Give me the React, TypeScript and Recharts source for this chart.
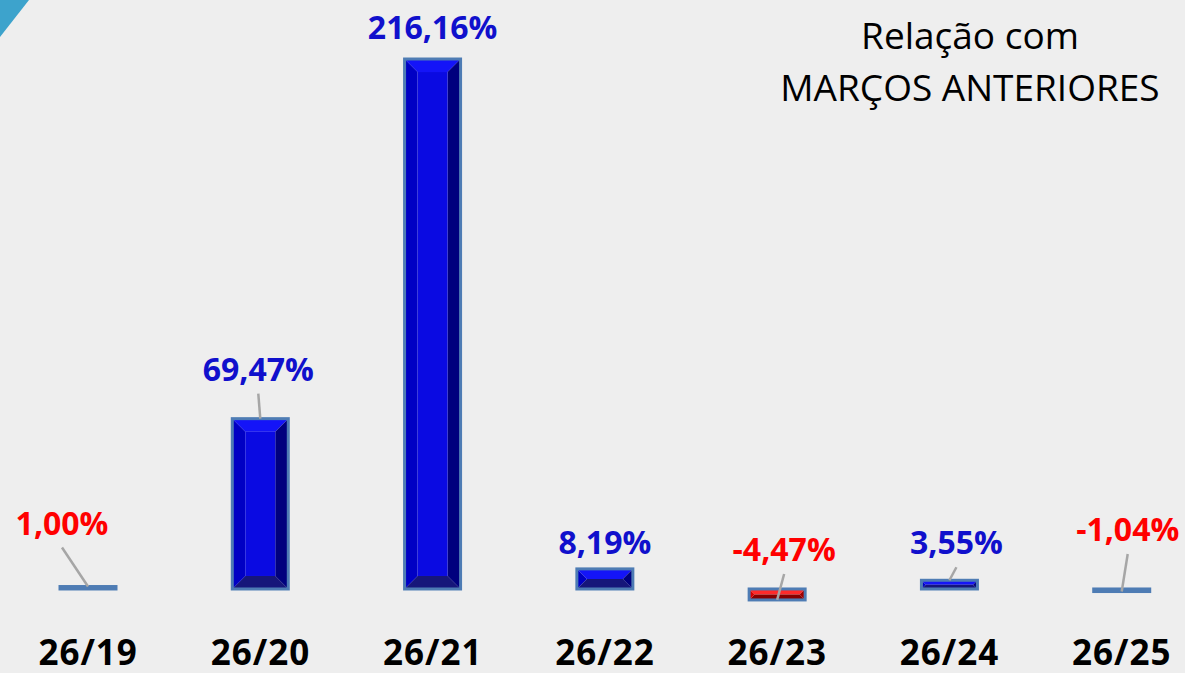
import React from "react";
import { Bar, BarChart, LabelList, XAxis, YAxis } from "recharts";

const categories = ["26/19", "26/20", "26/21", "26/22", "26/23", "26/24", "26/25"];
const changes = [1.0, 69.47, 216.16, 8.19, -4.47, 3.55, -1.04];
// which labels the original painted red
const redLabels = [true, false, false, false, true, false, true];
// label nudges (dx, dy from bar top), like the hand-moved labels of the original
const labelNudges: Array<[number, number]> = [
  [-26, -63],
  [-2, -49],
  [0, -31],
  [0, -26],
  [7, -39],
  [7, -37],
  [6, -59],
];

const data = categories.map((name, i) => ({ name, value: changes[i] }));

const blueFaces = { top: "#1414F8", front: "#0A0AE2", left: "#0000C4", right: "#00007E", bottom: "#16167A" };
const redFaces = { top: "#FF2A2A", front: "#F80000", left: "#D80000", right: "#A00000", bottom: "#880000" };

function BevelBar(props: any) {
  const { x, y, width, height, payload } = props;
  const top = Math.min(y, y + height);
  const h = Math.abs(height);
  const L = x;
  const W = width;
  const T = top;
  const b = Math.min(13, W / 2, h / 2);
  const c = payload.value < 0 ? redFaces : blueFaces;
  const pts = (arr: number[][]) => arr.map((p) => p.join(",")).join(" ");
  return (
    <g>
      <polygon points={pts([[L, T], [L + W, T], [L + W - b, T + b], [L + b, T + b]])} fill={c.top} />
      <polygon points={pts([[L, T + h], [L + W, T + h], [L + W - b, T + h - b], [L + b, T + h - b]])} fill={c.bottom} />
      <polygon points={pts([[L, T], [L + b, T + b], [L + b, T + h - b], [L, T + h]])} fill={c.left} />
      <polygon points={pts([[L + W, T], [L + W - b, T + b], [L + W - b, T + h - b], [L + W, T + h]])} fill={c.right} />
      <rect x={L + b} y={T + b} width={Math.max(0, W - 2 * b)} height={Math.max(0, h - 2 * b)} fill={c.front} />
      <rect x={L} y={T} width={W} height={h} fill="none" stroke="#4E7CB4" strokeWidth={3} />
    </g>
  );
}

function ValueLabel(props: any) {
  const { x, y, width, height, value, index } = props;
  const top = Math.min(y, y + height);
  const cx = x + width / 2;
  const valueEnd = value < 0 ? Math.max(y, y + height) : top;
  const [dx, dy] = labelNudges[index] || [0, -30];
  const lx = cx + dx;
  const ly = top + dy;
  const text = value.toFixed(2).replace(".", ",") + "%";
  const showLine = valueEnd - (ly + 24) > 10;
  return (
    <g>
      {showLine && <line x1={lx} y1={ly + 24} x2={cx} y2={valueEnd} stroke="#A6A6A6" strokeWidth={2.5} />}
      <text
        x={lx}
        y={ly + 11}
        textAnchor="middle"
        fontFamily="'Open Sans', sans-serif"
        fontWeight={700}
        fontSize={32}
        fill={redLabels[index] ? "#FF0000" : "#1010CC"}
      >
        {text}
      </text>
    </g>
  );
}

function CategoryTick(props: any) {
  const { x, y, payload } = props;
  return (
    <text
      x={x}
      y={y + 43}
      textAnchor="middle"
      fontFamily="'Open Sans', sans-serif"
      fontWeight={700}
      fontSize={35}
      letterSpacing={1}
      fill="#000000"
    >
      {payload.value}
    </text>
  );
}

export default function App() {
  return (
    <div
      style={{
        position: "fixed",
        left: 0,
        top: 0,
        width: 1185,
        height: 673,
        background: "#EEEEEE",
        overflow: "hidden",
      }}
    >
      <BarChart
        width={1210}
        height={673}
        data={data}
        margin={{ top: 49.6, right: 2, bottom: 0, left: 2 }}
        style={{ overflow: "visible" }}
      >
        <XAxis dataKey="name" axisLine={false} tickLine={false} height={59.5} tick={<CategoryTick />} interval={0} />
        <YAxis hide domain={[-10, 220]} />
        <Bar dataKey="value" barSize={56} shape={<BevelBar />} isAnimationActive={false}>
          <LabelList dataKey="value" content={<ValueLabel />} />
        </Bar>
      </BarChart>
      <svg width={40} height={40} style={{ position: "absolute", left: 0, top: 0 }}>
        <polygon points="0,0 29,0 0,37" fill="#3DA3CC" />
      </svg>
      <div
        style={{
          position: "absolute",
          left: 770,
          top: 9,
          width: 400,
          textAlign: "center",
          fontFamily: "'Open Sans', sans-serif",
          fontSize: 37,
          lineHeight: "52px",
          color: "#000000",
        }}
      >
        Relação com
        <br />
        MARÇOS ANTERIORES
      </div>
    </div>
  );
}
